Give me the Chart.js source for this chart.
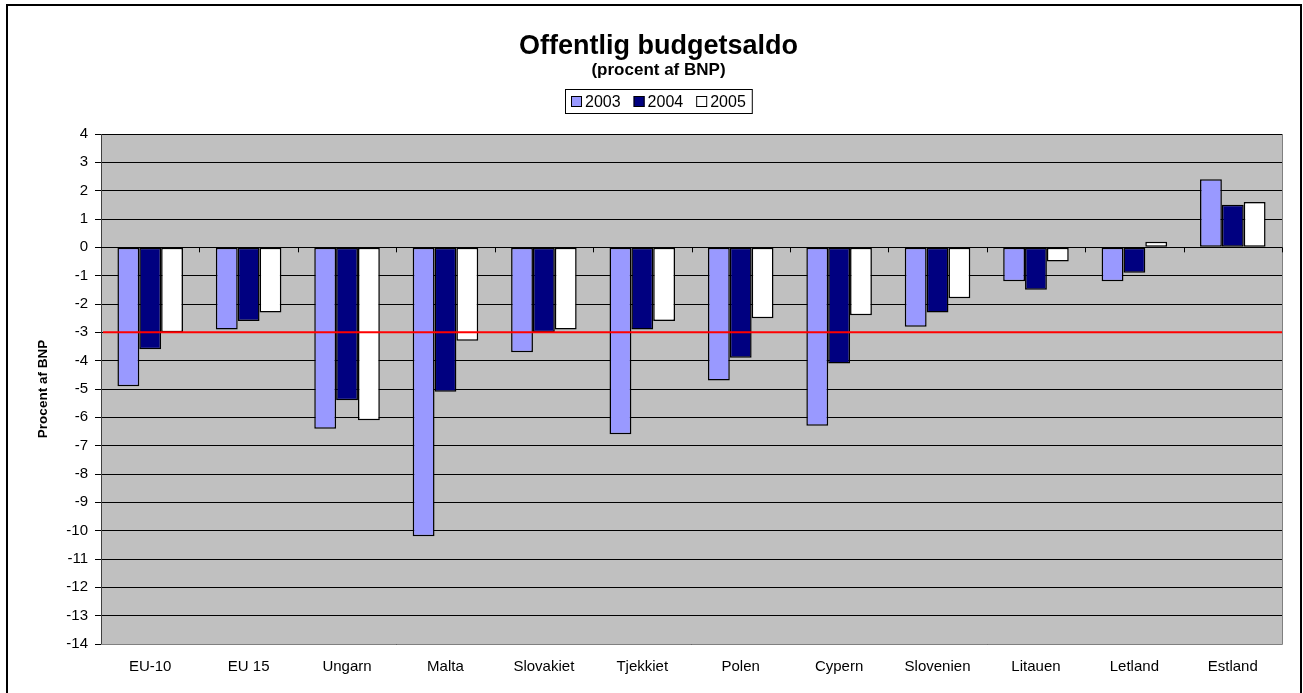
<!DOCTYPE html>
<html>
<head>
<meta charset="utf-8">
<title>Offentlig budgetsaldo</title>
<script src="https://cdn.jsdelivr.net/npm/chart.js@4/dist/chart.umd.min.js"></script>
<style>
  html, body { margin: 0; padding: 0; background: #fff; }
  #wrap { width: 1303px; height: 693px; }
</style>
</head>
<body>
<div id="wrap"><canvas id="budgetChart"></canvas></div>
<script>
// Data
const countries = ['EU-10', 'EU 15', 'Ungarn', 'Malta', 'Slovakiet', 'Tjekkiet', 'Polen', 'Cypern', 'Slovenien', 'Litauen', 'Letland', 'Estland'];
const years = ['2003', '2004', '2005'];
const saldo2003 = [-4.9, -2.9, -6.4, -10.2, -3.7, -6.6, -4.7, -6.3, -2.8, -1.2, -1.2, 2.4];
const saldo2004 = [-3.6, -2.6, -5.4, -5.1, -3.0, -2.9, -3.9, -4.1, -2.3, -1.5, -0.9, 1.5];
const saldo2005 = [-3.0, -2.3, -6.1, -3.3, -2.9, -2.6, -2.5, -2.4, -1.8, -0.5, 0.2, 1.6];
const yMin = -14;
const yMax = 4;
const deficitLimit = -3; // red reference line

const fontFamily = 'Arial, "Liberation Sans", sans-serif';
Chart.defaults.font.family = fontFamily;
Chart.defaults.color = '#000';

// White page, outer frame and grey plot area
const chartFrame = {
  id: 'chartFrame',
  beforeDraw(chart) {
    const ctx = chart.ctx;
    const a = chart.chartArea;
    ctx.save();
    ctx.fillStyle = '#fff';
    ctx.fillRect(0, 0, chart.width, chart.height);
    ctx.strokeStyle = '#000';
    ctx.lineWidth = 2;
    ctx.strokeRect(7, 5, chart.width - 9, chart.height + 10);
    ctx.fillStyle = '#C0C0C0';
    ctx.fillRect(a.left, a.top, a.width, a.height);
    ctx.restore();
  }
};

// Category tick marks on the zero line, -3% line and plot border
const zeroAxisAndLimit = {
  id: 'zeroAxisAndLimit',
  afterDatasetsDraw(chart) {
    const ctx = chart.ctx;
    const a = chart.chartArea;
    const x = chart.scales.x;
    const y = chart.scales.y;
    const y0 = y.getPixelForValue(0);
    ctx.save();
    ctx.strokeStyle = '#808080';
    ctx.lineWidth = 1;
    ctx.beginPath();
    ctx.moveTo(a.right + 0.5, a.top);
    ctx.lineTo(a.right + 0.5, a.bottom + 0.5);
    ctx.lineTo(a.left, a.bottom + 0.5);
    ctx.stroke();

    ctx.strokeStyle = '#000';
    ctx.beginPath();
    ctx.moveTo(a.left, Math.round(y0) + 0.5);
    ctx.lineTo(a.right, Math.round(y0) + 0.5);
    for (let i = 1; i <= countries.length; i++) {
      const bx = Math.round(x.getPixelForValue(i - 0.5)) + 0.5;
      ctx.moveTo(bx, y0);
      ctx.lineTo(bx, y0 + 5);
    }
    ctx.stroke();

    const yl = y.getPixelForValue(deficitLimit);
    ctx.strokeStyle = '#FF0000';
    ctx.lineWidth = 2;
    ctx.beginPath();
    ctx.moveTo(a.left + 2, yl);
    ctx.lineTo(a.right, yl);
    ctx.stroke();
    ctx.restore();
  }
};

// Boxed legend under the subtitle
const legendBox = {
  id: 'legendBox',
  afterDraw(chart) {
    const ctx = chart.ctx;
    const items = chart.data.datasets;
    const box = 11, gap = 3, spacing = 13, pad = 6, top = 89, h = 24;
    ctx.save();
    ctx.font = '16px ' + fontFamily;
    let total = pad * 2;
    items.forEach((ds, i) => {
      total += box + gap + ctx.measureText(ds.label).width;
      if (i < items.length - 1) total += spacing;
    });
    const cx = (chart.titleBlock.left + chart.titleBlock.right) / 2;
    let x = Math.round(cx - total / 2);
    ctx.strokeStyle = '#000';
    ctx.lineWidth = 1;
    ctx.strokeRect(x + 0.5, top + 0.5, total, h);
    x += pad;
    const mid = top + h / 2 + 0.5;
    items.forEach(ds => {
      ctx.fillStyle = ds.backgroundColor;
      ctx.fillRect(x, Math.round(mid - box / 2), box, box);
      ctx.strokeRect(x + 0.5, Math.round(mid - box / 2) + 0.5, box - 1, box - 1);
      x += box + gap;
      ctx.fillStyle = '#000';
      ctx.textBaseline = 'middle';
      ctx.fillText(ds.label, x, mid + 1);
      x += ctx.measureText(ds.label).width + spacing;
    });
    ctx.restore();
  }
};

new Chart(document.getElementById('budgetChart'), {
  type: 'bar',
  data: {
    labels: countries,
    datasets: [
      { label: years[0], data: saldo2003, backgroundColor: '#9999FF' },
      { label: years[1], data: saldo2004, backgroundColor: '#000080' },
      { label: years[2], data: saldo2005, backgroundColor: '#FFFFFF' }
    ]
  },
  options: {
    responsive: true,
    maintainAspectRatio: false,
    animation: false,
    layout: { padding: { left: 35, right: 21, top: 0, bottom: 0 } },
    datasets: {
      bar: {
        barPercentage: 1,
        categoryPercentage: 0.666,
        borderColor: '#000',
        borderWidth: 1.5,
        borderSkipped: false
      }
    },
    plugins: {
      legend: { display: false },
      tooltip: { enabled: false },
      title: {
        display: true,
        text: 'Offentlig budgetsaldo',
        color: '#000',
        font: { size: 27, weight: 'bold', lineHeight: 1.0 },
        padding: { top: 33.5, bottom: 0 }
      },
      subtitle: {
        display: true,
        text: '(procent af BNP)',
        color: '#000',
        font: { size: 17, weight: 'bold', lineHeight: 1.1 },
        padding: { top: 0, bottom: 54.8 }
      }
    },
    scales: {
      x: {
        grid: { display: false, drawTicks: false },
        border: { display: false },
        ticks: { color: '#000', font: { size: 15 }, padding: 14, maxRotation: 0, autoSkip: false },
        afterFit(scale) { scale.height = 49; }
      },
      y: {
        min: yMin,
        max: yMax,
        ticks: { stepSize: 1, color: '#000', font: { size: 15 }, padding: 7 },
        grid: { color: '#000', lineWidth: 1, tickLength: 6 },
        border: { color: '#404040', width: 1 },
        title: {
          display: true,
          text: 'Procent af BNP',
          color: '#000',
          font: { size: 13.5, weight: 'bold' },
          padding: { top: 0, bottom: 0 }
        },
        afterFit(scale) { scale.width = 66; }
      }
    }
  },
  plugins: [chartFrame, zeroAxisAndLimit, legendBox]
});
</script>
</body>
</html>
